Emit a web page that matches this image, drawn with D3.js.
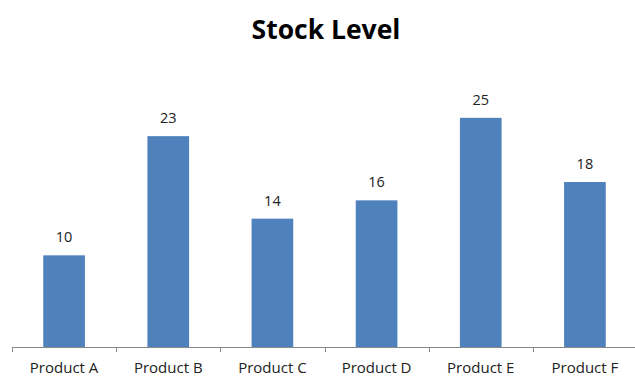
<!DOCTYPE html>
<html>
<head>
<meta charset="utf-8">
<script src="https://cdn.jsdelivr.net/npm/d3@7"></script>
<style>
  html, body { margin: 0; padding: 0; background: #fff; }
  svg text { font-family: "Open Sans", "Liberation Sans", sans-serif; }
</style>
</head>
<body>
<svg id="chart" width="635" height="378"></svg>
<script>
// Stock levels per product
const categories = ["Product A", "Product B", "Product C", "Product D", "Product E", "Product F"];
const stock = [10, 23, 14, 16, 25, 18];
const yDomain = [0, 30];

const svg = d3.select("#chart");
const plot = { left: 12, right: 637, top: 72, bottom: 347 };

const x = d3.scaleBand()
  .domain(categories)
  .range([plot.left, plot.right])
  .paddingInner(0.6)
  .paddingOuter(0.3);

const y = d3.scaleLinear()
  .domain(yDomain)
  .range([plot.bottom, plot.top]);

// Title
svg.append("text")
  .attr("x", 326)
  .attr("y", 39)
  .attr("text-anchor", "middle")
  .attr("font-size", 26.5)
  .attr("font-weight", "bold")
  .attr("fill", "#000")
  .text("Stock Level");

// Bars
svg.append("g")
  .selectAll("rect")
  .data(stock)
  .join("rect")
  .attr("x", (d, i) => x(categories[i]))
  .attr("y", d => y(d))
  .attr("width", x.bandwidth())
  .attr("height", d => y(0) - y(d))
  .attr("fill", "#4F81BD");

// Value labels
svg.append("g")
  .selectAll("text")
  .data(stock)
  .join("text")
  .attr("x", (d, i) => x(categories[i]) + x.bandwidth() / 2)
  .attr("y", d => y(d) - 13)
  .attr("text-anchor", "middle")
  .attr("font-size", 14.5)
  .attr("fill", "#222")
  .text(d => d);

// Category axis with ticks between bands
const axisG = svg.append("g");
axisG.append("line")
  .attr("x1", plot.left).attr("x2", plot.right)
  .attr("y1", plot.bottom + 0.5).attr("y2", plot.bottom + 0.5)
  .attr("stroke", "#888").attr("stroke-width", 1);

const step = x.step();
const tickXs = d3.range(categories.length + 1).map(i => plot.left + i * step);
axisG.selectAll("line.tick")
  .data(tickXs)
  .join("line")
  .attr("class", "tick")
  .attr("x1", d => Math.round(d) + 0.5).attr("x2", d => Math.round(d) + 0.5)
  .attr("y1", plot.bottom).attr("y2", plot.bottom + 5)
  .attr("stroke", "#888");

axisG.selectAll("text")
  .data(categories)
  .join("text")
  .attr("x", d => x(d) + x.bandwidth() / 2)
  .attr("y", plot.bottom + 26)
  .attr("text-anchor", "middle")
  .attr("font-size", 15)
  .attr("fill", "#222")
  .text(d => d);
</script>
</body>
</html>
